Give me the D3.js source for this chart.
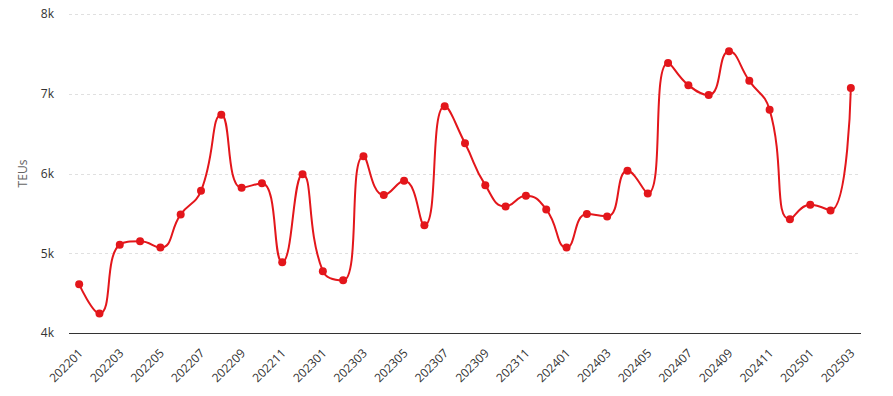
<!DOCTYPE html>
<html>
<head>
<meta charset="utf-8">
<script src="https://cdn.jsdelivr.net/npm/d3@7"></script>
<style>
  html, body { margin: 0; padding: 0; background: #fff; }
  svg { display: block; font-family: "Open Sans", "Noto Sans", sans-serif; }
</style>
</head>
<body>
<svg id="chart" width="893" height="396"></svg>
<script>
const months = ["202201","202202","202203","202204","202205","202206","202207","202208","202209","202210","202211","202212",
  "202301","202302","202303","202304","202305","202306","202307","202308","202309","202310","202311","202312",
  "202401","202402","202403","202404","202405","202406","202407","202408","202409","202410","202411","202412",
  "202501","202502","202503"];
const teus = [4610, 4245, 5108, 5150, 5071, 5487, 5783, 6737, 5821, 5879, 4887, 5992,
  4775, 4660, 6217, 5729, 5908, 5350, 6842, 6379, 5854, 5587, 5721, 5550,
  5071, 5492, 5462, 6033, 5750, 7387, 7108, 6983, 7533, 7162, 6800, 5425,
  5608, 5537, 7071];
const yTicks = [4000, 5000, 6000, 7000, 8000];
const yTitle = "TEUs";

const svg = d3.select("#chart");
const mLeft = 69, mRight = 861, mTop = 14, mBottom = 333;

const x = d3.scalePoint().domain(months).range([mLeft, mRight]).padding(0.5);
const y = d3.scaleLinear().domain([4000, 8000]).range([mBottom, mTop]);

// ECharts-like smooth curve (smooth = 0.5, clamped control points)
function SmoothCurve(context) { this._context = context; }
SmoothCurve.prototype = {
  areaStart() {}, areaEnd() {},
  lineStart() { this._pts = []; },
  point(px, py) { this._pts.push([+px, +py]); },
  lineEnd() {
    const p = this._pts, n = p.length, c = this._context, s = 0.5;
    if (!n) return;
    c.moveTo(p[0][0], p[0][1]);
    if (n === 1) return;
    const cpIn = [], cpOut = [];
    for (let i = 0; i < n; i++) {
      const [px, py] = p[i];
      if (i === 0 || i === n - 1) { cpIn[i] = [px, py]; cpOut[i] = [px, py]; continue; }
      const [ax, ay] = p[i - 1], [bx, by] = p[i + 1];
      let dx = bx - ax, dy = by - ay;
      const lp = Math.hypot(px - ax, py - ay), ln = Math.hypot(bx - px, by - py);
      const r = ln / (ln + lp);
      let c1x = px + dx * s * r, c1y = py + dy * s * r;
      c1x = Math.min(c1x, Math.max(bx, px)); c1y = Math.min(c1y, Math.max(by, py));
      c1x = Math.max(c1x, Math.min(bx, px)); c1y = Math.max(c1y, Math.min(by, py));
      dx = c1x - px; dy = c1y - py;
      let c0x = px - dx * lp / ln, c0y = py - dy * lp / ln;
      c0x = Math.min(c0x, Math.max(ax, px)); c0y = Math.min(c0y, Math.max(ay, py));
      c0x = Math.max(c0x, Math.min(ax, px)); c0y = Math.max(c0y, Math.min(ay, py));
      dx = px - c0x; dy = py - c0y;
      c1x = px + dx * ln / lp; c1y = py + dy * ln / lp;
      cpIn[i] = [c0x, c0y]; cpOut[i] = [c1x, c1y];
    }
    for (let i = 1; i < n; i++) {
      c.bezierCurveTo(cpOut[i - 1][0], cpOut[i - 1][1], cpIn[i][0], cpIn[i][1], p[i][0], p[i][1]);
    }
  }
};
const smoothCurve = ctx => new SmoothCurve(ctx);

// gridlines
svg.append("g")
  .selectAll("line")
  .data(yTicks.filter(d => d !== 4000))
  .join("line")
  .attr("x1", mLeft).attr("x2", mRight)
  .attr("y1", d => Math.round(y(d)) + 0.5).attr("y2", d => Math.round(y(d)) + 0.5)
  .attr("stroke", "#e0e0e0")
  .attr("stroke-dasharray", "3,3");

// y axis labels
const yAxis = d3.axisLeft(y).tickValues(yTicks).tickSize(0).tickPadding(15)
  .tickFormat(d => (d / 1000) + "k");
const gy = svg.append("g").attr("transform", `translate(${mLeft},0)`).call(yAxis);
gy.select(".domain").remove();
gy.selectAll("text").attr("fill", "#333").attr("font-size", 12).attr("font-family", "Open Sans, sans-serif");

// x axis
const xAxis = d3.axisBottom(x).tickSize(0).tickPadding(0).tickValues(months.filter((d, i) => i % 2 === 0));
const gx = svg.append("g").attr("transform", `translate(0,${mBottom})`).call(xAxis);
gx.select(".domain").attr("stroke", "#333").attr("d", `M${mLeft},0.5H${mRight}`);
gx.selectAll("text")
  .attr("fill", "#333").attr("font-size", 12).attr("font-family", "Open Sans, sans-serif")
  .attr("text-anchor", "end")
  .attr("dy", "0.35em")
  .attr("y", 0)
  .attr("transform", "translate(1,18) rotate(-45)");

// y title
svg.append("text")
  .attr("transform", `translate(27,${(mTop + mBottom) / 2}) rotate(-90)`)
  .attr("text-anchor", "middle")
  .attr("fill", "#666")
  .attr("font-size", 12)
  .text(yTitle);

// line
const line = d3.line().x((d, i) => x(months[i])).y(d => y(d)).curve(smoothCurve);
svg.append("path")
  .datum(teus)
  .attr("d", line)
  .attr("fill", "none")
  .attr("stroke", "#e3161b")
  .attr("stroke-width", 2);

svg.append("g")
  .selectAll("circle")
  .data(teus)
  .join("circle")
  .attr("cx", (d, i) => x(months[i]))
  .attr("cy", d => y(d))
  .attr("r", 4)
  .attr("fill", "#e3161b");
</script>
</body>
</html>
